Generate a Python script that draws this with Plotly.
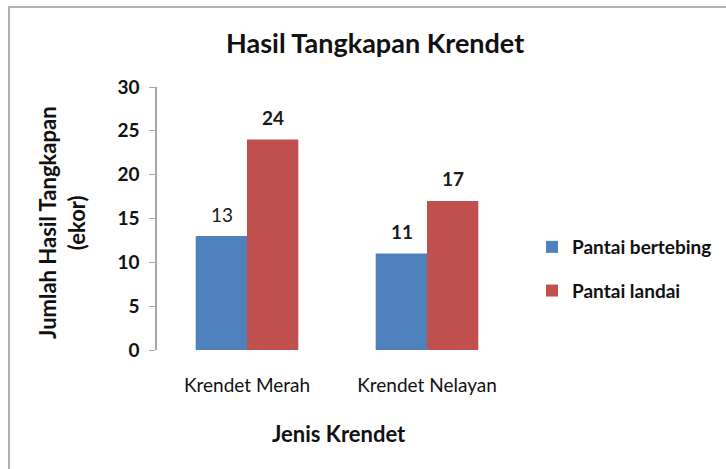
import plotly.graph_objects as go

categories = ["Krendet Merah", "Krendet Nelayan"]
series_names = ["Pantai bertebing", "Pantai landai"]
bertebing = [13, 11]
landai = [24, 17]
bertebing_label_bold = [False, True]
landai_label_bold = [True, True]
colors = ["#4F81BD", "#C0504D"]

FONT = "Lato"
W, H = 726, 469
ML, MT = 157, 87
MR = W - 517
MB = H - 350
PW, PH = W - ML - MR, H - MT - MB

def px_x(px):
    return (px - ML) / PW

def px_y(py):
    return (H - MB - py) / PH

fig = go.Figure()
for i, (name, vals) in enumerate([(series_names[0], bertebing), (series_names[1], landai)]):
    fig.add_trace(go.Bar(
        x=categories, y=vals, name=name,
        marker=dict(color=colors[i], line=dict(width=0)),
        legendgroup=name,
    ))

annotations = []
for vals, bold, shift in [(bertebing, bertebing_label_bold, -25.5), (landai, landai_label_bold, 25.5)]:
    for c, v, b in zip(categories, vals, bold):
        annotations.append(dict(
            x=c, y=v, xref="x", yref="y", text=str(v), showarrow=False,
            xshift=shift, yshift=22, yanchor="middle",
            font=dict(family=FONT, size=19, color="#1a1a1a", weight="bold" if b else "normal"),
        ))

annotations.append(dict(
    x=px_x(62), y=px_y(223), xref="paper", yref="paper",
    text="Jumlah Hasil Tangkapan<br>(ekor)",
    textangle=-90, showarrow=False, xanchor="center", yanchor="middle", align="center",
    font=dict(family=FONT, size=22, color="#111111", weight="bold"),
))
annotations.append(dict(
    x=px_x(339), y=px_y(433), xref="paper", yref="paper", text="Jenis Krendet",
    showarrow=False, xanchor="center", yanchor="middle",
    font=dict(family=FONT, size=22, color="#111111", weight="bold"),
))
annotations.append(dict(
    x=px_x(375), y=px_y(43), xref="paper", yref="paper", text="Hasil Tangkapan Krendet",
    showarrow=False, xanchor="center", yanchor="middle",
    font=dict(family=FONT, size=27, color="#111111", weight="bold"),
))

fig.update_layout(
    width=W, height=H,
    margin=dict(l=ML, r=MR, t=MT, b=MB, autoexpand=False),
    paper_bgcolor="white", plot_bgcolor="white",
    barmode="group", bargap=0.43, bargroupgap=0,
    showlegend=True,
    legend=dict(
        x=px_x(532), y=px_y(228), xanchor="left", yanchor="top",
        font=dict(family=FONT, size=19, color="#111111", weight="bold"),
        traceorder="grouped", tracegroupgap=16, bgcolor="rgba(0,0,0,0)",
    ),
    xaxis=dict(
        range=[-0.5, 1.5], showline=False, ticks="", showgrid=False,
        ticklabelstandoff=22, automargin=False,
        tickfont=dict(family=FONT, size=19, color="#111111"),
    ),
    yaxis=dict(
        range=[0, 30], dtick=5, showgrid=False, zeroline=False,
        showline=True, linecolor="#A6A6A6", linewidth=1.5,
        ticks="outside", ticklen=6, tickcolor="#A6A6A6", tickwidth=1,
        ticklabelstandoff=6, automargin=False,
        tickfont=dict(family=FONT, size=19, color="#111111", weight="bold"),
    ),
    annotations=annotations,
    shapes=[dict(
        type="rect", xref="paper", yref="paper",
        x0=px_x(9), x1=px_x(780), y0=px_y(540), y1=px_y(7),
        line=dict(color="#B0B0B0", width=2), fillcolor="rgba(0,0,0,0)", layer="below",
    )],
)

fig.write_html("out.html", config={"displayModeBar": False},
               post_script="document.body.style.margin='0px';")
